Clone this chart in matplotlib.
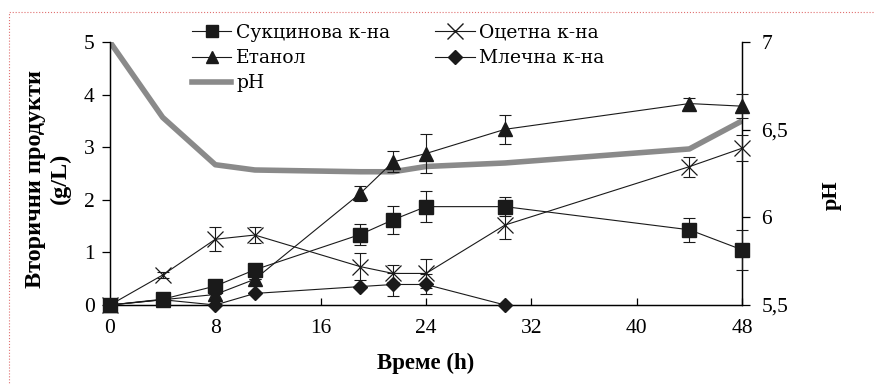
import matplotlib
matplotlib.use("Agg")
import matplotlib.pyplot as plt
import matplotlib.ticker as mticker
from matplotlib.lines import Line2D
from matplotlib.patches import Rectangle

# Data
time_h = [0, 4, 8, 11, 19, 21.5, 24, 30, 44, 48]

succinic = [0, 0.11, 0.36, 0.67, 1.34, 1.62, 1.87, 1.87, 1.43, 1.05]
succinic_err = [0, 0, 0, 0, 0.2, 0.27, 0.3, 0.18, 0.23, 0.38]

ethanol = [0, 0.1, 0.2, 0.49, 2.12, 2.72, 2.88, 3.34, 3.83, 3.78]
ethanol_err = [0, 0, 0, 0, 0.15, 0.2, 0.37, 0.27, 0.1, 0.23]

acetic = [0, 0.57, 1.25, 1.33, 0.73, 0.6, 0.6, 1.52, 2.63, 2.98]
acetic_err = [0, 0.05, 0.23, 0.16, 0.25, 0.16, 0.28, 0.27, 0.19, 0.25]

lactic_t = [0, 4, 8, 11, 19, 21.5, 24, 30]
lactic = [0, 0.1, 0, 0.22, 0.35, 0.39, 0.39, 0]
lactic_err = [0, 0, 0, 0, 0, 0.22, 0.19, 0]

ph = [7.0, 6.57, 6.3, 6.27, 6.26, 6.26, 6.29, 6.31, 6.39, 6.55]

x_ticks = [0, 8, 16, 24, 32, 40, 48]
ph_ticks = [5.5, 6.0, 6.5, 7.0]

SERIF = "Liberation Serif"
LEG_FONT = "DejaVu Serif"
plt.rcParams.update({
    "font.family": SERIF,
    "font.size": 15,
})

fig = plt.figure(figsize=(8.75, 3.85), dpi=100)
ax = fig.add_axes([110 / 875, 1 - 305 / 385, 632 / 875, 263 / 385])
ax2 = ax.twinx()
ax.set_zorder(2)
ax.patch.set_visible(False)

LINE = "#1a1a1a"
GRAY = "#8a8a8a"

# pH on the secondary axis
ax2.plot(time_h, ph, color=GRAY, linewidth=4, solid_capstyle="butt", zorder=1)

common = dict(color=LINE, linewidth=0.8, clip_on=False, zorder=3)
ax.plot(time_h, acetic, marker="x", markersize=12, markeredgewidth=0.9, **common)
ax.plot(lactic_t, lactic, marker="D", markersize=7.5, **common)
ax.plot(time_h, ethanol, marker="^", markersize=10, **common)
ax.plot(time_h, succinic, marker="s", markersize=10, **common)

ebar = dict(fmt="none", ecolor=LINE, elinewidth=0.8, capsize=4, capthick=0.8,
            clip_on=False, zorder=3)
ax.errorbar(time_h, succinic, yerr=succinic_err, **ebar)
ax.errorbar(time_h, ethanol, yerr=ethanol_err, **ebar)
ax.errorbar(time_h, acetic, yerr=acetic_err, **ebar)
ax.errorbar(lactic_t, lactic, yerr=lactic_err, **ebar)

ax.set_xlim(0, 48)
ax.set_ylim(0, 5)
ax2.set_ylim(5.5, 7.0)
ax.set_xticks(x_ticks)
ax.set_yticks(range(0, 6))
ax2.set_yticks(ph_ticks)
ax2.yaxis.set_major_formatter(
    mticker.FuncFormatter(lambda v, _: f"{v:g}".replace(".", ",")))

for a in (ax, ax2):
    a.spines["top"].set_visible(False)
    for s in a.spines.values():
        s.set_linewidth(0.9)
ax.tick_params(axis="x", direction="in", length=5, width=0.9, pad=10, labelsize=15.5)
ax.tick_params(axis="y", direction="out", length=6, width=0.9, pad=5, labelsize=15.5)
ax2.tick_params(axis="y", direction="out", length=6, width=0.9, pad=8, labelsize=15.5)

ax.set_xlabel("Време (h)", fontsize=16.5, fontweight="bold", labelpad=11)
ax.set_ylabel("Вторични продукти\n(g/L)", fontsize=17.5, fontweight="bold",
              linespacing=1.25, labelpad=9)
ax.yaxis.label.set_y(0.48)
ax2.set_ylabel("pH", fontsize=16, fontweight="bold")
ax2.yaxis.set_label_coords((832 - 110) / 632, (305 - 195) / 263)
ax2.yaxis.label.set_va("center")

handles = [
    Line2D([], [], color=LINE, lw=0.8, marker="s", markersize=9),
    Line2D([], [], color=LINE, lw=0.8, marker="^", markersize=9),
    Line2D([], [], color=GRAY, lw=4),
    Line2D([], [], color=LINE, lw=0.8, marker="x", markersize=11),
    Line2D([], [], color=LINE, lw=0.8, marker="D", markersize=7),
]
labels = ["Сукцинова к-на", "Етанол", "pH", "Оцетна к-на", "Млечна к-на"]
fig.legend(handles, labels, ncol=2, loc="upper left",
           bbox_to_anchor=(192 / 875, 1 - 24 / 385), frameon=False,
           prop={"family": LEG_FONT, "size": 13.5}, handlelength=2.1,
           handletextpad=0.25, columnspacing=2.4, labelspacing=0.38,
           borderpad=0, borderaxespad=0)

# dotted border of the original frame
fig.patches.append(Rectangle((9 / 875, -0.05), 1.2, 1 - 12 / 385 + 0.05,
                             transform=fig.transFigure, fill=False,
                             edgecolor="#e07070", linestyle=":", linewidth=0.8))

fig.savefig("out.png", dpi=100, facecolor="white")
plt.close(fig)
